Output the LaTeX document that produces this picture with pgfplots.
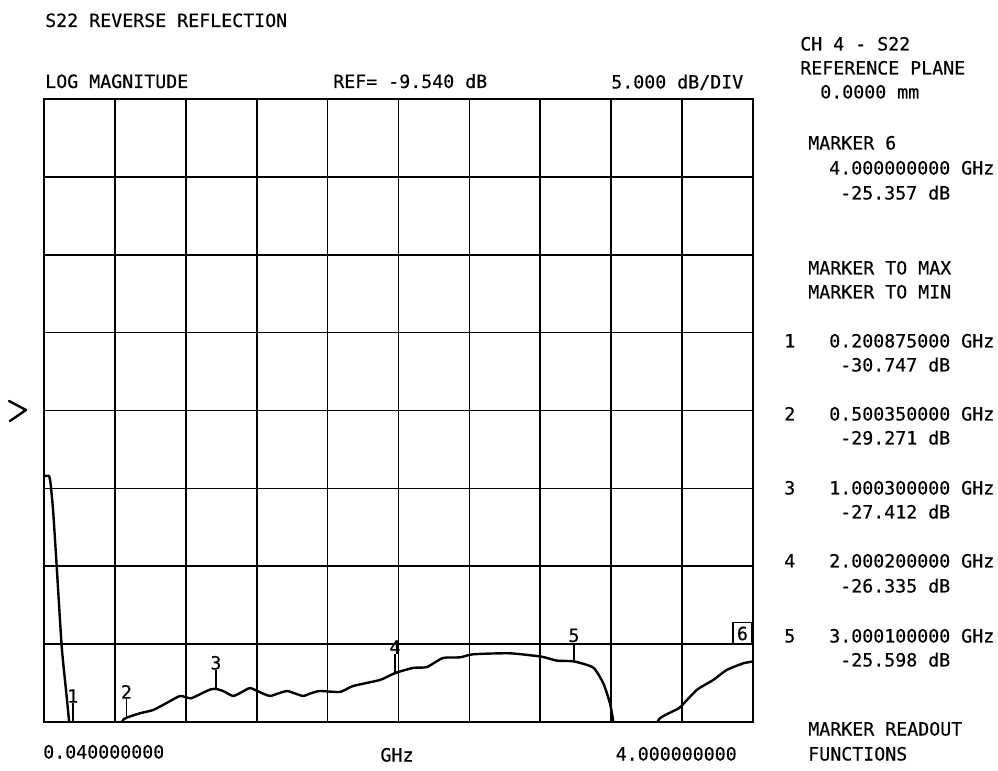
\documentclass[border=0pt]{standalone}
\usepackage{pgfplots}
\pgfplotsset{compat=1.18}
\usepackage{fontspec}
\setmainfont{DejaVu Sans Mono}[BoldFont=DejaVu Sans Mono, BoldFeatures={FakeBold=0.35}]
\newcommand{\pf}{\fontsize{13.7}{16}\selectfont\bfseries}
\pgfdeclareplotmark{mtick}{\pgfpathmoveto{\pgfqpoint{0pt}{0pt}}\pgfpathlineto{\pgfqpoint{0pt}{14pt}}\pgfusepathqstroke}
\newcommand{\T}[3]{\node[anchor=base west, inner sep=0pt, font=\pf] at ({(#1-44)*0.75pt},{(715.5-#2)*0.75pt}) {#3};}
\begin{document}
\begin{tikzpicture}
\begin{axis}[at={(0,0)}, anchor=south west, scale only axis,
  width=531.75pt, height=467.25pt,
  xmin=0.04, xmax=4, ymin=-29.54, ymax=10.46,
  xtick={0.04,0.436,0.832,1.228,1.624,2.02,2.416,2.812,3.208,3.604,4.0},
  ytick={-29.54,-24.54,-19.54,-14.54,-9.54,-4.54,0.46,5.46,10.46},
  xticklabels={}, yticklabels={}, major tick length=0pt,
  grid=major, major grid style={black, line width=1.3pt},
  axis line style={black, line width=1.4pt},
  clip=true]
\addplot[black, line width=1.8pt, line join=round, mark=none, smooth, tension=0.35] coordinates {
(0.040,-13.75) (0.068,-13.75) (0.0774,-14.3) (0.085,-15.2) (0.092,-16.14)
(0.111,-19.57) (0.139,-24.71) (0.1668,-27.92) (0.1813,-29.56) (0.2009,-30.747)
(0.26,-33.5) (0.33,-35.5) (0.40,-33.5) (0.45,-31.0) (0.474,-29.54)
(0.50035,-29.271) (0.576,-28.98) (0.650,-28.77) (0.72,-28.35) (0.80,-27.87)
(0.86,-28.02) (0.93,-27.65) (0.97,-27.45) (1.0003,-27.412) (1.04,-27.55) (1.096,-27.87)
(1.14,-27.65) (1.191,-27.36) (1.25,-27.65) (1.302,-27.87) (1.35,-27.70)
(1.397,-27.55) (1.44,-27.70) (1.487,-27.87) (1.53,-27.70) (1.581,-27.55)
(1.693,-27.61) (1.766,-27.23) (1.917,-26.84) (2.0002,-26.40) (2.101,-26.07)
(2.179,-26.01) (2.268,-25.43) (2.363,-25.39) (2.438,-25.19) (2.643,-25.13)
(2.82,-25.35) (2.904,-25.60) (3.0001,-25.65) (3.108,-26.05) (3.164,-27.06)
(3.201,-28.34) (3.224,-29.8) (3.28,-34) (3.37,-36) (3.44,-31)
(3.458,-29.8) (3.48,-29.30) (3.536,-28.94) (3.592,-28.6) (3.685,-27.49)
(3.778,-26.84) (3.853,-26.2) (3.946,-25.77) (3.993,-25.67) (4.0,-25.65)
};
\addplot[black, line width=1.3pt, only marks, mark=mtick, point meta=explicit symbolic,
  nodes near coords,
  every node near coord/.append style={font=\pf, inner sep=0pt, anchor=center, yshift=19.5pt}]
  coordinates {(0.2009,-29.54)[1] (0.50035,-29.271)[2] (1.0003,-27.412)[3] (2.0002,-26.40)[4] (3.0001,-25.65)[5]};
\addplot[black, only marks, mark=none, point meta=explicit symbolic,
  nodes near coords,
  every node near coord/.append style={font=\pf, draw=black, line width=1.2pt, inner sep=3pt, anchor=center, xshift=-7.9pt, yshift=17.5pt}]
  coordinates {(4.0,-25.357)[6]};
\end{axis}
\draw[line width=1.8pt, line join=round, line cap=round] (-26.25pt,240.75pt) -- (-13.5pt,234pt) -- (-25.5pt,225.75pt);
\T{45}{20.5}{S22 REVERSE REFLECTION}
\T{45}{81.5}{LOG MAGNITUDE}
\T{333}{81.5}{REF= -9.540 dB}
\T{611}{82}{5.000 dB/DIV}
\T{800}{44}{CH 4 - S22}
\T{800}{68}{REFERENCE PLANE}
\T{820}{92}{0.0000 mm}
\T{808}{143}{MARKER 6}
\T{829}{168}{4.000000000 GHz}
\T{840}{193}{-25.357 dB}
\T{808}{268}{MARKER TO MAX}
\T{808}{292}{MARKER TO MIN}
\T{784}{341}{1}
\T{829}{341}{0.200875000 GHz}
\T{840}{365}{-30.747 dB}
\T{784}{414}{2}
\T{829}{414}{0.500350000 GHz}
\T{840}{438}{-29.271 dB}
\T{784}{488}{3}
\T{829}{488}{1.000300000 GHz}
\T{840}{512}{-27.412 dB}
\T{784}{561}{4}
\T{829}{561}{2.000200000 GHz}
\T{840}{586}{-26.335 dB}
\T{784}{636}{5}
\T{829}{636}{3.000100000 GHz}
\T{840}{660}{-25.598 dB}
\T{808}{729}{MARKER READOUT}
\T{808}{754}{FUNCTIONS}
\T{43}{752}{0.040000000}
\node[anchor=base, inner sep=0pt, font=\pf] at ({(397-44)*0.75pt},{(715.5-755)*0.75pt}) {GHz};
\node[anchor=base east, inner sep=0pt, font=\pf] at ({(737-44)*0.75pt},{(715.5-754)*0.75pt}) {4.000000000};
\pgfresetboundingbox
\useasboundingbox (-33pt,-36pt) rectangle (715.5pt,541.5pt);
\end{tikzpicture}
\end{document}
